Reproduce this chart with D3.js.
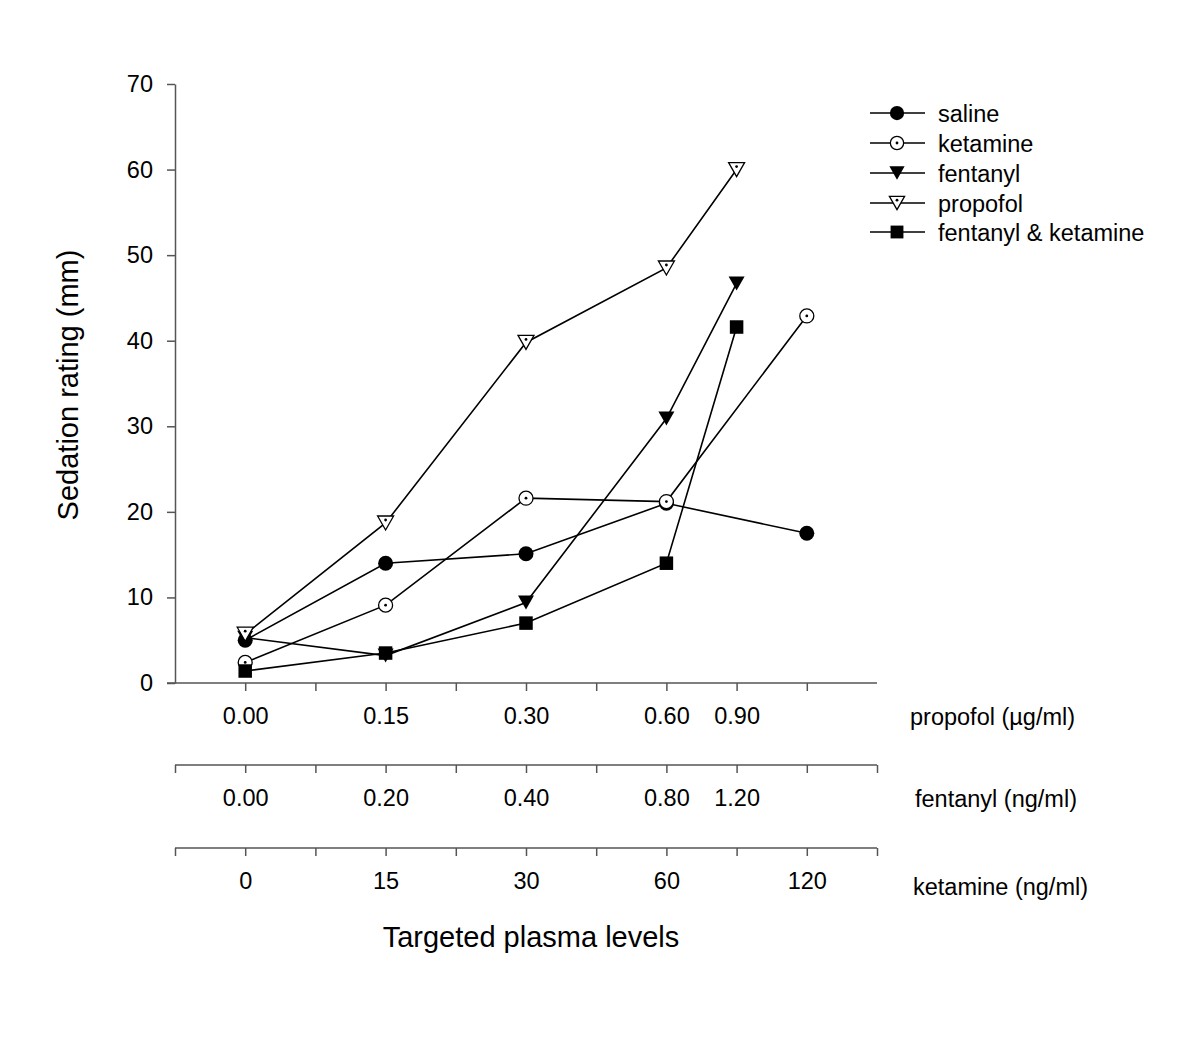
<!DOCTYPE html>
<html>
<head>
<meta charset="utf-8">
<script src="https://cdn.jsdelivr.net/npm/d3@7"></script>
<style>
  html, body { margin: 0; padding: 0; background: #fff; }
  svg { display: block; font-family: "Liberation Sans", Arial, sans-serif; }
</style>
</head>
<body>
<svg id="chart" width="1200" height="1063"></svg>
<script>
// ---------- data ----------
// x position of each targeted level on the shared axis (axis units 0..10)
const levelX = [1, 3, 5, 7, 8, 9];
const propofolLabels = ["0.00", "0.15", "0.30", "0.60", "0.90", ""];
const fentanylLabels = ["0.00", "0.20", "0.40", "0.80", "1.20", ""];
const ketamineLabels = ["0", "15", "30", "60", "", "120"];

const seriesNames = ["saline", "ketamine", "fentanyl", "propofol", "fentanyl & ketamine"];
const saline = [5.0, 14.0, 15.1, 21.0, null, 17.5];
const ketamine = [2.4, 9.1, 21.6, 21.2, null, 42.9];
const fentanyl = [5.3, 3.2, 9.4, 30.9, 46.7, null];
const propofol = [5.7, 18.7, 39.8, 48.5, 60.0, null];
const fentanylKetamine = [1.4, 3.5, 7.0, 14.0, 41.6, null];

const yTicks = [0, 10, 20, 30, 40, 50, 60, 70];

// ---------- layout ----------
const svg = d3.select("#chart");
const x = d3.scaleLinear().domain([0, 10]).range([175, 877]);
const y = d3.scaleLinear().domain([0, 70]).range([683, 84]);
const axisColor = "#555";
const fontSize = 23.5;
const titleSize = 29;
const ff = "Liberation Sans, Arial, sans-serif";

// y axis
const yAxis = svg.append("g").attr("transform", "translate(175,0)")
  .call(d3.axisLeft(y).tickValues(yTicks).tickSize(8).tickSizeOuter(0).tickPadding(14));
yAxis.select(".domain").attr("stroke", axisColor).attr("stroke-width", 1.5);
yAxis.selectAll(".tick line").attr("stroke", axisColor).attr("stroke-width", 1.5);
yAxis.selectAll(".tick text").attr("font-size", fontSize).attr("fill", "#000").attr("font-family", ff);

// helper for bottom axes
function bottomAxis(yPos, tickVals, labels, startX) {
  const labelMap = new Map(levelX.map((v, i) => [v, labels[i]]));
  const g = svg.append("g").attr("transform", `translate(0,${yPos})`)
    .call(d3.axisBottom(x).tickValues(tickVals).tickSize(8).tickSizeOuter(0).tickPadding(16)
      .tickFormat(d => labelMap.get(d) || ""));
  g.select(".domain").remove();
  g.append("line").attr("x1", startX).attr("x2", x(10)).attr("y1", 0).attr("y2", 0)
    .attr("stroke", axisColor).attr("stroke-width", 1.5);
  g.selectAll(".tick line").attr("stroke", axisColor).attr("stroke-width", 1.5);
  g.selectAll(".tick text").attr("font-size", fontSize).attr("fill", "#000").attr("font-family", ff);
  return g;
}
bottomAxis(683, d3.range(1, 10), propofolLabels, 167);
bottomAxis(765, d3.range(0, 11), fentanylLabels, 175);
bottomAxis(848, d3.range(0, 11), ketamineLabels, 175);

// axis unit labels
const unitLabels = [
  { text: "propofol (\u00b5g/ml)", x: 910, y: 724.5 },
  { text: "fentanyl (ng/ml)", x: 915, y: 806.5 },
  { text: "ketamine (ng/ml)", x: 913, y: 894.5 }
];
svg.selectAll(".unit").data(unitLabels).enter().append("text")
  .attr("x", d => d.x).attr("y", d => d.y).attr("font-size", fontSize).text(d => d.text);

svg.append("text").attr("x", 531).attr("y", 947).attr("text-anchor", "middle")
  .attr("font-size", titleSize).text("Targeted plasma levels");
svg.append("text").attr("transform", "translate(78,385) rotate(-90)").attr("text-anchor", "middle")
  .attr("font-size", titleSize).text("Sedation rating (mm)");

// ---------- series ----------
const seriesData = [saline, ketamine, fentanyl, propofol, fentanylKetamine];
const markerTypes = ["filledCircle", "openCircleDot", "filledTri", "openTriDot", "filledSquare"];

function drawMarker(g, type, cx, cy, scale) {
  scale = scale || 1;
  const sg = g.append("g").attr("transform", `translate(${cx},${cy})`);
  if (type === "filledCircle") {
    sg.append("circle").attr("r", 7.5 * scale).attr("fill", "#000");
  } else if (type === "openCircleDot") {
    sg.append("circle").attr("r", 7 * scale).attr("fill", "#fff").attr("stroke", "#000").attr("stroke-width", 1.3);
    sg.append("circle").attr("r", 1.4).attr("fill", "#000");
  } else if (type === "filledTri" || type === "openTriDot") {
    const w = 16 * scale, h = 14 * scale;
    const p = d3.path();
    p.moveTo(-w / 2, -h / 2); p.lineTo(w / 2, -h / 2); p.lineTo(0, h / 2); p.closePath();
    if (type === "filledTri") {
      sg.append("path").attr("d", p.toString()).attr("fill", "#000");
    } else {
      sg.append("path").attr("d", p.toString()).attr("fill", "#fff").attr("stroke", "#000").attr("stroke-width", 1.3);
      sg.append("circle").attr("cy", -h / 2 + 4 * scale).attr("r", 1.4).attr("fill", "#000");
    }
  } else if (type === "filledSquare") {
    const s = 13.5 * scale;
    sg.append("rect").attr("x", -s / 2).attr("y", -s / 2).attr("width", s).attr("height", s).attr("fill", "#000");
  }
}

const line = d3.line().defined(d => d.v !== null).x(d => x(d.x)).y(d => y(d.v));
seriesData.forEach((vals, si) => {
  const pts = vals.map((v, i) => ({ x: levelX[i], v: v }));
  const valid = pts.filter(d => d.v !== null);
  const g = svg.append("g");
  g.append("path").datum(valid).attr("d", line).attr("fill", "none")
    .attr("stroke", "#000").attr("stroke-width", 1.6);
  valid.forEach(d => drawMarker(g, markerTypes[si], x(d.x), y(d.v)));
});

// ---------- legend ----------
const legendY = [113, 143, 173, 203, 232];
seriesNames.forEach((name, i) => {
  const g = svg.append("g");
  g.append("line").attr("x1", 870).attr("x2", 925).attr("y1", legendY[i]).attr("y2", legendY[i])
    .attr("stroke", "#000").attr("stroke-width", 1.6);
  drawMarker(g, markerTypes[i], 897, legendY[i], 0.95);
  g.append("text").attr("x", 938).attr("y", legendY[i] + 8.5).attr("font-size", fontSize).text(name);
});
</script>
</body>
</html>
